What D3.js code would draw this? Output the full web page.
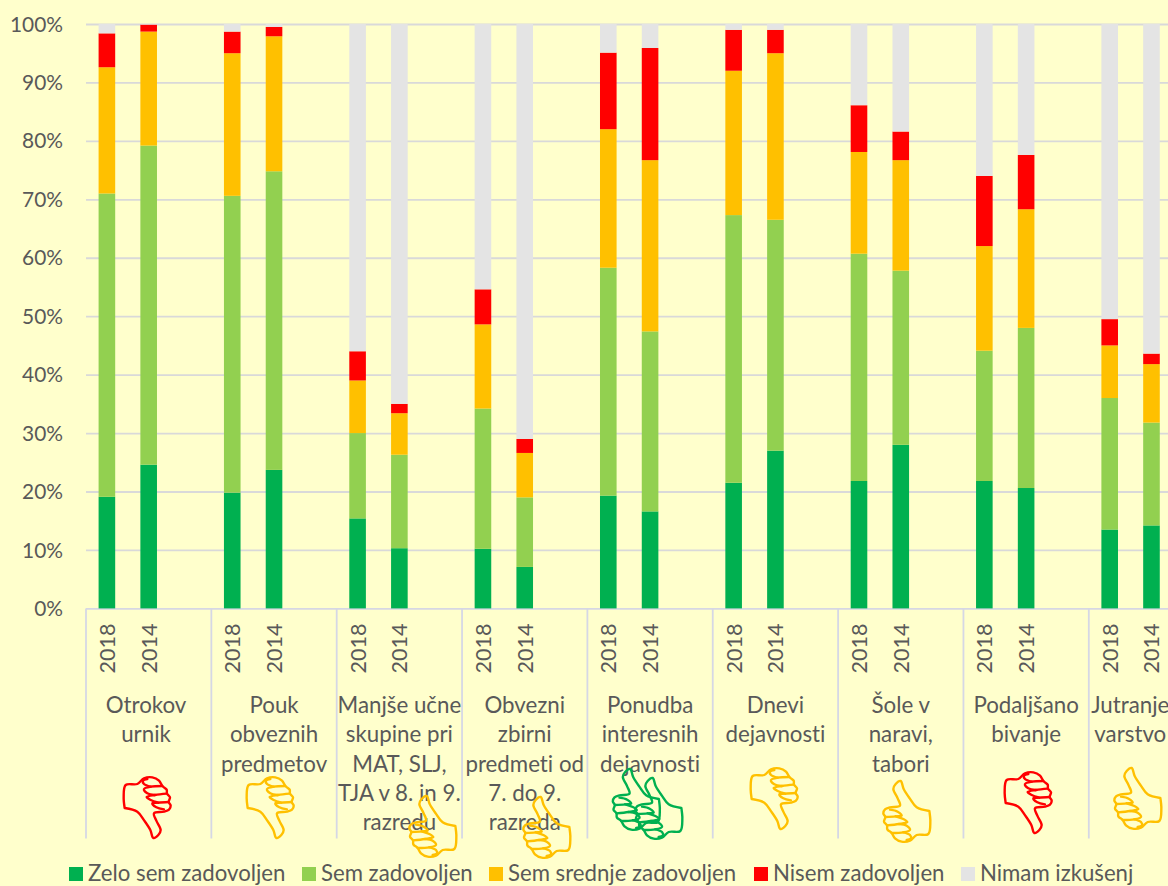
<!DOCTYPE html>
<html>
<head>
<meta charset="utf-8">
<script src="https://cdnjs.cloudflare.com/ajax/libs/d3/7.8.5/d3.min.js"></script>
<style>
html,body{margin:0;padding:0;background:#ffffcc;overflow:hidden}
svg{display:block}
text{font-family:Lato,"Open Sans",sans-serif;fill:#595959;font-variant-ligatures:none}
</style>
</head>
<body>
<svg id="chart" width="1168" height="886"></svg>
<script>
const categories = ["Otrokov urnik","Pouk obveznih predmetov","Manjše učne skupine pri MAT, SLJ, TJA v 8. in 9. razredu","Obvezni zbirni predmeti od 7. do 9. razreda","Ponudba interesnih dejavnosti","Dnevi dejavnosti","Šole v naravi, tabori","Podaljšano bivanje","Jutranje varstvo"];
const categoryLines = [["Otrokov","urnik"],["Pouk","obveznih","predmetov"],["Manjše učne","skupine pri","MAT, SLJ,","TJA v 8. in 9.","razredu"],["Obvezni","zbirni","predmeti od","7. do 9.","razreda"],["Ponudba","interesnih","dejavnosti"],["Dnevi","dejavnosti"],["Šole v","naravi,","tabori"],["Podaljšano","bivanje"],["Jutranje","varstvo"]];
const years = ["2018","2014",""];
const seriesNames = ["Zelo sem zadovoljen","Sem zadovoljen","Sem srednje zadovoljen","Nisem zadovoljen","Nimam izkušenj"];
const seriesColors = ["#00b050","#92d050","#ffc000","#ff0000","#e4e4e4"];
// each list alternates 2018, 2014 per category
const zeloSem = [19.1,24.6,19.8,23.7,15.4,10.3,10.2,7.1,19.3,16.6,21.5,27,21.8,28,21.8,20.6,13.5,14.2];
const semZad = [51.9,54.6,50.8,51.1,14.6,16,24,11.9,39,30.8,45.8,39.5,38.9,29.8,22.3,27.4,22.5,17.6];
const srednje = [21.6,19.5,24.4,23.1,9,7.1,14.4,7.6,23.7,29.3,24.7,28.5,17.4,18.9,17.9,20.3,9,10];
const nisem = [5.8,1.2,3.7,1.6,5,1.6,6,2.4,13.1,19.2,7,4,8,4.9,12,9.3,4.5,1.8];
const nimam = [1.6,0.1,1.3,0.5,56,65,45.4,71,4.9,4.1,1,1,13.9,18.4,26,22.4,50.5,56.4];
const seriesValues = [zeloSem,semZad,srednje,nisem,nimam];
const yTicks = [0,10,20,30,40,50,60,70,80,90,100];
// verdict per category: hand direction and colour
const verdicts = [["down","#ff0000"],["down","#ffc000"],["up","#ffc000"],["up","#ffc000"],["up2","#00b050"],["down","#ffc000"],["up","#ffc000"],["down","#ff0000"],["up","#ffc000"]];

const svg = d3.select("#chart");
const left = 86, top_ = 24, base = 608.4, catW = 125.35;
svg.append("rect").attr("width",1168).attr("height",886).attr("fill","#ffffcc");

const x0 = d3.scaleBand().domain(categories).range([left,left+catW*categories.length]);
const x1 = d3.scaleBand().domain(years).range([0,x0.bandwidth()]);
const y = d3.scaleLinear().domain([0,100]).range([base,top_]);
const barW = 16.6;

// gridlines + y labels
const yAxis = svg.append("g").attr("transform",`translate(${left},0)`)
  .call(d3.axisLeft(y).tickValues(yTicks).tickFormat(d=>d+"%").tickSize(-(1168-left)).tickPadding(23));
yAxis.select(".domain").remove();
yAxis.selectAll(".tick line").attr("stroke",d=>d===0?"#d6d7e3":"#d9d9d9").attr("stroke-width",1.8);
yAxis.selectAll(".tick text").style("font-size","20.9px").attr("dy","0.34em").attr("font-family",null);

// stacked bars
const rows = categories.flatMap((c,i)=>years.slice(0,2).map((yr,j)=>({c,yr,idx:i*2+j})));
seriesValues.forEach((vals,s)=>{
  svg.append("g").selectAll("rect").data(rows).join("rect")
    .attr("x",d=>x0(d.c)+x1(d.yr)+x1.bandwidth()/2-barW/2)
    .attr("width",barW)
    .attr("y",d=>y(d3.sum(seriesValues.slice(0,s+1),v=>v[d.idx])))
    .attr("height",d=>y(d3.sum(seriesValues.slice(0,s),v=>v[d.idx]))-y(d3.sum(seriesValues.slice(0,s+1),v=>v[d.idx])))
    .attr("fill",seriesColors[s]);
});

// category separators
svg.append("g").selectAll("line").data(categories).join("line")
  .attr("x1",d=>x0(d)).attr("x2",d=>x0(d)).attr("y1",base).attr("y2",838.5)
  .attr("stroke","#d5d7e5").attr("stroke-width",1.8);

// year labels
svg.append("g").selectAll("text").data(rows).join("text")
  .attr("transform",d=>`translate(${x0(d.c)+x1(d.yr)+x1.bandwidth()/2+8},648.5) rotate(-90)`)
  .attr("text-anchor","middle").style("font-size","21.6px").text(d=>d.yr);

// category labels
const labelCentre = (c,i)=> i===0 ? x0(c)+60 : i===categories.length-1 ? x0(c)+41.5 : x0(c)+62.7;
categoryLines.forEach((lines,i)=>{
  svg.append("g").selectAll("text").data(lines).join("text")
    .attr("x",labelCentre(categories[i],i))
    .attr("y",(d,k)=>713+k*29.3)
    .attr("text-anchor","middle").style("font-size","22.3px").text(d=>d);
});

// hand icon, drawn thumb-up in a 60x70 box
const pt = d3.line().curve(d3.curveCatmullRom.alpha(0.5)).x(d=>d[0]/3).y(d=>d[1]/3);
const handOutline = [[163,108],[125,97],[104,70],[86,42],[77,18],[62,27],[55,42],[68,70],[75,92],[45,97],[30,103],[25,115],[31,126],[27,140],[36,151],[37,163],[50,174],[60,190],[80,200],[105,197],[125,180],[160,177],[166,140],[163,108]];
const handFolds = [
  [[45,104],[68,110],[80,122],[62,124],[31,126]],
  [[62,124],[85,132],[97,141],[72,147],[36,151]],
  [[72,147],[95,152],[105,165],[85,172],[50,174]],
  [[85,172],[105,180],[108,190],[95,195]]
];
function hand(tx,ty,flip,color){
  const g = svg.append("g").attr("transform",flip?`translate(${tx+60},${ty+70}) rotate(180)`:`translate(${tx},${ty})`)
    .attr("fill","none").attr("stroke",color).attr("stroke-width",2.4).attr("stroke-linejoin","round").attr("stroke-linecap","round");
  g.append("path").attr("d",pt(handOutline));
  handFolds.forEach(f=>g.append("path").attr("d",pt(f)));
}
const handSpots = [[119,774],[242,774],[401,790],[515,791],[604.5,763],[746,765],[875,775],[1000,769],[1106,762]];
verdicts.forEach((v,i)=>{
  const [tx,ty] = handSpots[i];
  hand(tx,ty,v[0]==="down",v[1]);
  if(v[0]==="up2") hand(tx+22.5,ty+9,false,v[1]);
});

// legend
const legendX = [69,302,489,754,961];
const legend = svg.append("g").selectAll("g").data(seriesNames).join("g")
  .attr("transform",(d,i)=>`translate(${legendX[i]},867)`);
legend.append("rect").attr("width",14).attr("height",14).attr("fill",(d,i)=>seriesColors[i]);
legend.append("text").attr("x",19).attr("y",14).style("font-size","22.2px").text(d=>d);
</script>
</body>
</html>
